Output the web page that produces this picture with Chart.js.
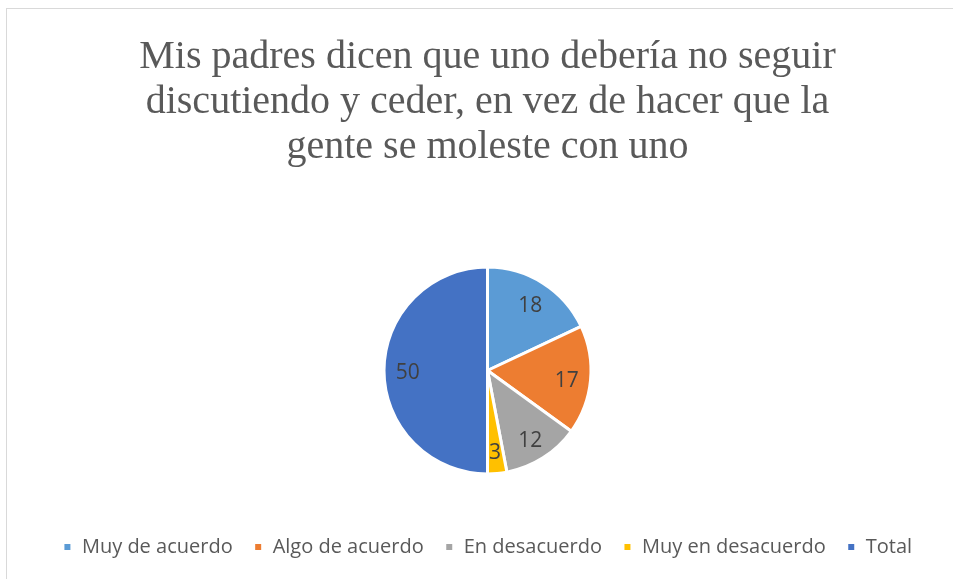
<!DOCTYPE html>
<html>
<head>
<meta charset="utf-8">
<script src="https://cdn.jsdelivr.net/npm/chart.js@4"></script>
<style>
  html, body { margin: 0; padding: 0; background: #fff; }
  #frame {
    position: absolute; left: 6px; top: 8px; width: 960px; height: 600px;
    border-top: 1px solid #d9d9d9; border-left: 1px solid #d9d9d9;
  }
  #wrap { position: absolute; left: 0; top: 0; width: 953px; height: 579px; }
</style>
</head>
<body>
<div id="frame"></div>
<div id="wrap"><canvas id="myChart"></canvas></div>
<script>
const titleLines = [
    'Mis padres dicen que uno debería no seguir',
    'discutiendo y ceder, en vez de hacer que la',
    'gente se moleste con uno'
];
const categories = ['Muy de acuerdo', 'Algo de acuerdo', 'En desacuerdo', 'Muy en desacuerdo', 'Total'];
const values = [18, 17, 12, 3, 50];
const colors = ['#5B9BD5', '#ED7D31', '#A5A5A5', '#FFC000', '#4472C4'];

// draws the value inside each slice, like the office chart does
const sliceLabels = {
    id: 'sliceLabels',
    afterDatasetsDraw(chart) {
        const ctx = chart.ctx;
        const meta = chart.getDatasetMeta(0);
        ctx.save();
        ctx.font = '21px "Open Sans"';
        ctx.fillStyle = '#404040';
        ctx.textAlign = 'center';
        ctx.textBaseline = 'middle';
        meta.data.forEach((arc, i) => {
            const p = arc.getProps(['x', 'y', 'startAngle', 'endAngle', 'outerRadius'], true);
            const mid = (p.startAngle + p.endAngle) / 2;
            const r = p.outerRadius * 0.77;
            ctx.fillText(String(values[i]), p.x + Math.cos(mid) * r, p.y + Math.sin(mid) * r + 3);
        });
        ctx.restore();
    }
};

const ctx = document.getElementById('myChart');
const myChart = new Chart(ctx, {
    type: 'pie',
    data: {
        labels: categories,
        datasets: [{
            data: values,
            backgroundColor: colors,
            borderColor: '#fff',
            borderWidth: 3,
            radius: 103.5
        }]
    },
    options: {
        responsive: true,
        maintainAspectRatio: false,
        animation: false,
        layout: { padding: { left: 22, right: 0, top: 0, bottom: 12 } },
        plugins: {
            title: {
                display: true,
                text: titleLines,
                color: '#595959',
                font: { family: '"Liberation Serif"', size: 40, weight: 'normal', lineHeight: 1.125 },
                padding: { top: 35, bottom: 55 }
            },
            legend: {
                position: 'bottom',
                labels: {
                    usePointStyle: true,
                    pointStyle: 'rect',
                    boxHeight: 9,
                    boxWidth: 9,
                    padding: 21,
                    color: '#595959',
                    font: { family: '"Open Sans"', size: 20 }
                }
            },
            tooltip: { enabled: false }
        }
    },
    plugins: [sliceLabels]
});
</script>
</body>
</html>
